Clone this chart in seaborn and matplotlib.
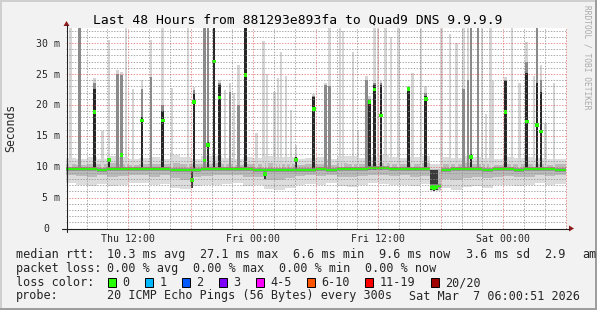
import numpy as np
import pandas as pd
import matplotlib
matplotlib.use("Agg")
import matplotlib.pyplot as plt
from matplotlib.lines import Line2D
from matplotlib.patches import Rectangle, Polygon
import seaborn as sns

N = np.nan

# ---------------- data ----------------
TITLE = "Last 48 Hours from 881293e893fa to Quad9 DNS 9.9.9.9"
YLABEL = "Seconds"
WATERMARK = "RRDTOOL / TOBI OETIKER"

# hourly bins since Thu 06:00 (ms)
hours = list(range(48))
med = [9.7, 9.7, 9.6, 9.5, 9.6, 9.7, 9.6, 9.6, 9.7, 9.6, 9.5, 9.4,
       9.5, 9.7, 9.6, 9.7, 9.6, 9.6, 9.5, 9.4, 9.5, 9.5, 9.5, 9.5,
       9.6, 9.5, 9.6, 9.6, 9.7, 9.8, 9.8, 9.7, 9.7, 9.6, 9.6, 6.8,
       9.5, 9.6, 9.6, 9.6, 9.5, 9.6, 9.6, 9.5, 9.6, 9.7, 9.6, 9.5]
lo1 = [7.3, 7.0, 6.9, 7.2, 6.8, 7.0, 7.3, 7.4, 7.0, 7.2, 6.6, 6.4,
       6.8, 7.0, 7.1, 7.2, 7.3, 6.9, 7.0, 6.4, 6.2, 6.6, 7.0, 7.2,
       7.0, 7.3, 6.9, 6.7, 7.1, 7.3, 7.2, 7.0, 7.1, 6.9, 7.2, 6.0,
       6.5, 6.3, 6.7, 6.9, 6.6, 7.0, 7.1, 6.8, 7.0, 7.3, 7.1, 7.2]
lo2 = [8.6, 8.5, 8.4, 8.6, 8.3, 8.5, 8.7, 8.7, 8.4, 8.6, 8.1, 7.9,
       8.3, 8.5, 8.6, 8.6, 8.7, 8.4, 8.3, 7.9, 7.8, 8.1, 8.5, 8.6,
       8.5, 8.6, 8.4, 8.3, 8.5, 8.7, 8.6, 8.5, 8.6, 8.4, 8.5, 6.2,
       8.0, 7.9, 8.2, 8.4, 8.2, 8.4, 8.5, 8.3, 8.4, 8.6, 8.5, 8.6]
hi2 = [10.4, 10.3, 10.5, 10.4, 10.6, 10.5, 10.3, 10.4, 10.5, 10.4, 10.6, 10.5,
       10.4, 10.5, 10.6, 10.4, 10.3, 10.5, 10.4, 10.6, 10.5, 10.4, 10.3, 10.4,
       10.5, 10.3, 10.6, 10.5, 10.4, 10.5, 10.6, 10.5, 10.4, 10.5, 10.6, 9.7,
       10.5, 10.4, 10.6, 10.5, 10.4, 10.3, 10.5, 10.4, 10.5, 10.4, 10.3, 10.4]
hi1 = [11.4, 11.2, 11.6, 11.3, 11.8, 11.5, 11.2, 11.4, 11.6, 11.3, 11.9, 11.5,
       11.3, 11.7, 11.8, 11.4, 11.2, 11.6, 11.4, 11.8, 11.6, 11.5, 11.2, 11.4,
       11.6, 11.3, 11.8, 11.7, 11.4, 11.6, 11.9, 11.5, 11.4, 11.6, 11.8, 10.5,
       11.5, 11.4, 11.8, 11.6, 11.4, 11.3, 11.6, 11.4, 11.6, 11.4, 11.2, 11.3]

# spikes: time (h), top of light smoke, top of medium smoke, top of dark core, median (ms)
spk_t = [0.45, 1.3, 2.75, 3.5, 4.15, 4.95, 5.35, 5.8, 6.45, 7.3, 8.2, 9.3,
         10.2, 11.75, 12.3, 13.3, 13.65, 14.25, 14.75, 15.3, 15.75, 16.15, 16.6, 17.25,
         18.3, 19.0, 19.3, 20.05, 20.35, 20.65, 21.15, 21.6, 22.1, 23.8, 24.95, 25.3,
         26.3, 26.6, 27.55, 28.05, 28.85, 29.15, 29.65, 29.95, 30.25, 30.7, 31.2, 31.95,
         32.9, 33.3, 34.1, 34.55, 36.05, 36.9, 37.5, 38.2, 38.6, 38.9, 39.55, 39.95,
         40.35, 40.75, 40.95, 42.2, 42.85, 43.55, 44.25, 44.95, 45.25, 45.6, 46.05, 46.85]
spk_light = [32.9, 32.9, 24.3, 15.7, 30.5, 25.6, 25.4, 32.9, 22.5, 24.0, 30.5, 32.9,
             22.7, 32.9, 22.9, 32.9, 32.9, 32.9, 24.0, 22.4, 23.5, 22.0, 26.4, 32.9,
             15.5, 30.3, 25.0, 22.1, 24.3, 28.6, 24.6, 19.2, 13.5, 21.8, 23.5, 32.9,
             32.4, 32.0, 28.6, 16.0, 24.6, 21.5, 32.9, 32.9, 23.8, 32.9, 31.0, 32.9,
             23.0, 25.1, 32.9, 23.0, 32.9, 31.5, 30.0, 32.9, 32.9, 32.9, 32.9, 32.4,
             18.5, 32.4, 23.8, 24.5, 32.4, 23.5, 30.2, 24.6, 32.9, 26.4, 17.0, 23.5]
spk_mid = [N, 32.9, 23.5, N, N, 25.0, 24.8, N, N, 22.5, 24.5, 20.0,
           N, N, 22.4, 32.9, 32.9, 32.9, 23.5, N, 22.1, N, 20.0, 32.9,
           N, N, N, N, N, N, N, N, N, 21.5, 23.2, 23.0,
           N, N, N, N, 24.0, 21.0, 23.5, N, 23.5, N, N, N,
           22.8, N, N, 22.0, N, N, N, 22.5, 24.0, 32.9, 32.9, N,
           N, N, N, 24.0, N, N, 27.0, N, 32.9, 24.0, N, N]
spk_dark = [N, N, 22.5, N, 11.3, N, N, N, N, 18.0, N, 19.0,
            N, N, 21.8, N, 14.0, 32.9, 23.2, N, N, N, N, 32.9,
            N, N, N, N, N, N, N, N, 11.6, 21.3, N, N,
            N, N, N, N, N, 20.8, 23.2, N, 23.2, N, N, N,
            22.7, N, N, 21.5, N, N, N, N, N, 12.0, N, N,
            N, N, N, 23.8, N, N, 25.1, N, 23.5, 22.1, N, N]
spk_med = [N, N, 18.9, N, 11.1, N, 11.9, N, N, 17.5, N, 17.5,
           N, N, 20.5, 11.0, 13.5, 27.0, 21.2, N, N, N, N, 24.8,
           N, N, N, N, N, N, N, N, 11.1, 19.3, N, N,
           N, N, N, N, N, 20.5, 22.5, N, 18.3, N, N, N,
           22.6, N, N, 20.9, N, N, N, N, N, 11.6, N, N,
           N, N, N, 18.8, N, N, 17.3, N, 16.7, 15.7, N, N]

# short downward dips: time (h), lowest ping, median (ms)
dip_t = [12.1, 19.1, 35.1, 35.35, 35.6]
dip_low = [6.6, 8.0, 6.2, 6.1, 6.3]
dip_med = [7.8, 8.8, 6.7, 6.6, 6.7]

xtick_hours = [6, 18, 30, 42]
xtick_labels = ["Thu 12:00", "Fri 00:00", "Fri 12:00", "Sat 00:00"]
ytick_vals = [0, 5, 10, 15, 20, 25, 30]
ytick_labels = ["0", "5 m", "10 m", "15 m", "20 m", "25 m", "30 m"]

loss_labels = ["0", "1", "2", "3", "4-5", "6-10", "11-19", "20/20"]
loss_colors = ["#26ff00", "#00b8ff", "#0059ff", "#7e00ff", "#ff00ff",
               "#ff5500", "#ff0000", "#a10000"]

rtt_parts = ["median rtt:", "10.3 ms avg", "27.1 ms max", "6.6 ms min",
             "9.6 ms now", "3.6 ms sd", "2.9", "am"]
loss_parts = ["packet loss:", "0.00 % avg", "0.00 % max", "0.00 % min", "0.00 % now"]
color_title = "loss color:"
probe_parts = ["probe:", "20 ICMP Echo Pings (56 Bytes) every 300s"]
date_text = "Sat Mar  7 06:00:51 2026"

# ---------------- style / layout ----------------
sns.set_style("white")
plt.rcParams["font.family"] = ["DejaVu Sans Mono"]

W, H = 597, 310
fig = plt.figure(figsize=(W / 100, H / 100), dpi=100, facecolor="#f2f2f2")


def fx(x):
    return x / W


def fy(y):
    return 1 - y / H


X0, X1, Y0, Y1 = 65.8, 565.8, 228.5, 28.0
YMAX = 32.44
ax = fig.add_axes([fx(X0), fy(Y0), (X1 - X0) / W, (Y0 - Y1) / H])
ax.set_facecolor("white")
ax.set_xlim(0, 48)
ax.set_ylim(0, YMAX)
for s in ax.spines.values():
    s.set_visible(False)


def xpx(h):
    return X0 + h * (X1 - X0) / 48


def ypx(v):
    return Y0 - v * (Y0 - Y1) / YMAX


# ---- baseline smoke ----
df = pd.DataFrame(dict(hour=hours, med=med, lo1=lo1, lo2=lo2, hi2=hi2, hi1=hi1))
ax.bar(df.hour, df.hi1 - df.lo1, bottom=df.lo1, width=1, align="edge",
       color="#dcdcdc", lw=0, zorder=1)
ax.bar(df.hour, df.hi2 - df.lo2, bottom=df.lo2, width=1, align="edge",
       color="#bababa", lw=0, zorder=1.1)

# ---- spikes ----
SPK_BASE = 9.4
sp = pd.DataFrame(dict(t=spk_t, light=spk_light, mid=spk_mid, dark=spk_dark, med=spk_med))
for col, color, z in [("light", "#d4d4d4", 2), ("mid", "#8a8a8a", 2.1), ("dark", "#262626", 2.2)]:
    s = sp.dropna(subset=[col])
    ax.bar(s.t, s[col] - SPK_BASE, bottom=SPK_BASE, width=0.24, color=color, lw=0, zorder=z)

dp = pd.DataFrame(dict(t=dip_t, low=dip_low, med=dip_med))
ax.bar(dp.t, dp.low - SPK_BASE, bottom=SPK_BASE, width=0.24, color="#3a3a3a", lw=0, zorder=2.3)

# ---- median ----
ax.hlines(df.med, df.hour, df.hour + 1, color="#8c8c8c", lw=2.6, zorder=3)
ax.hlines(df.med, df.hour, df.hour + 1, color="#26ff00", lw=1.3, zorder=3.1)
sns.scatterplot(data=sp.dropna(subset=["med"]), x="t", y="med", ax=ax, marker="s",
                s=7, color="#26ff00", edgecolor="none", zorder=4, legend=False)
sns.scatterplot(data=dp, x="t", y="med", ax=ax, marker="s",
                s=7, color="#26ff00", edgecolor="none", zorder=4, legend=False)
ax.set_xlabel("")
ax.set_ylabel("")
ax.set_xticks([])
ax.set_yticks([])

# ---- grid ----
GRID = (0.56, 0.56, 0.56, 0.75)
MGRID = (0.87, 0.31, 0.31, 0.60)
dot = (0, (1.4, 1.4))
for h in range(2, 49, 2):
    c = MGRID if h % 6 == 0 else GRID
    ax.axvline(h, color=c, lw=0.72, ls=dot, zorder=5, clip_on=False)
for v in range(1, 33):
    c = MGRID if v % 5 == 0 else GRID
    ax.axhline(v, color=c, lw=0.72, ls=dot, zorder=5)

# ---- axes lines & arrows ----
AXC = "#212121"
ARR = "#8b1a1a"
fig.add_artist(Line2D([fx(62), fx(569)], [fy(Y0), fy(Y0)], color=AXC, lw=0.8))
fig.add_artist(Line2D([fx(X0 + 0.7), fx(X0 + 0.7)], [fy(232), fy(25)], color=AXC, lw=0.8))
fig.add_artist(Polygon([[fx(569), fy(225.5)], [fx(569), fy(231.5)], [fx(574), fy(Y0)]],
                       closed=True, color=ARR, lw=0))
fig.add_artist(Polygon([[fx(63.5), fy(26)], [fx(69.5), fy(26)], [fx(X0 + 0.7), fy(21)]],
                       closed=True, color=ARR, lw=0))

# ---- texts ----
fig.text(fx(297.5), fy(24), TITLE, ha="center", va="baseline", fontsize=9.4, color="black")
fig.text(fx(10.5), fy(127.5), YLABEL, rotation=90, ha="center", va="center", fontsize=8.3)
fig.text(fx(587.5), fy(57), WATERMARK, rotation=270, ha="center", va="center",
         fontsize=5.7, color="#aaaaaa")

for v, lab in zip(ytick_vals, ytick_labels):
    xr = 59.5 if "m" in lab else 49.5
    fig.text(fx(xr), fy(ypx(v) + 3.6), lab, ha="right", va="baseline", fontsize=7.1)
for h, lab in zip(xtick_hours, xtick_labels):
    fig.text(fx(xpx(h)), fy(242), lab, ha="center", va="baseline", fontsize=7.1)

LFS = 8.45
rtt_x = [16, 107.3, 200, 292.7, 379, 465.7, 544, 582.5]
for txt, x in zip(rtt_parts, rtt_x):
    fig.text(fx(x), fy(258), txt, ha="left", va="baseline", fontsize=LFS)
loss_x = [16, 107.3, 193.3, 279.3, 365]
for txt, x in zip(loss_parts, loss_x):
    fig.text(fx(x), fy(272), txt, ha="left", va="baseline", fontsize=LFS)
fig.text(fx(16), fy(286), color_title, ha="left", va="baseline", fontsize=LFS)
for txt, x in zip(probe_parts, [16, 107.3]):
    fig.text(fx(x), fy(299.5), txt, ha="left", va="baseline", fontsize=LFS)
fig.text(fx(580), fy(299.5), date_text, ha="right", va="baseline", fontsize=LFS)

bx = 108.0
for lab, col in zip(loss_labels, loss_colors):
    fig.add_artist(Rectangle((fx(bx), fy(286.7)), 8 / W, 8.4 / H, facecolor=col,
                             edgecolor="black", lw=0.7))
    fig.text(fx(bx + 14.7), fy(286), lab, ha="left", va="baseline", fontsize=LFS)
    bx += 36.9 + (len(lab) - 1) * 7.16

# ---- 3D frame ----
fig.add_artist(Rectangle((0, fy(2)), 1, 2 / H, facecolor="#cfcfcf", lw=0))
fig.add_artist(Rectangle((0, 0), 2 / W, 1, facecolor="#cfcfcf", lw=0))
fig.add_artist(Rectangle((0, 0), 1, 2 / H, facecolor="#9e9e9e", lw=0))
fig.add_artist(Rectangle((1 - 2 / W, 0), 2 / W, 1, facecolor="#9e9e9e", lw=0))

fig.savefig("out.png", dpi=100, facecolor=fig.get_facecolor())
